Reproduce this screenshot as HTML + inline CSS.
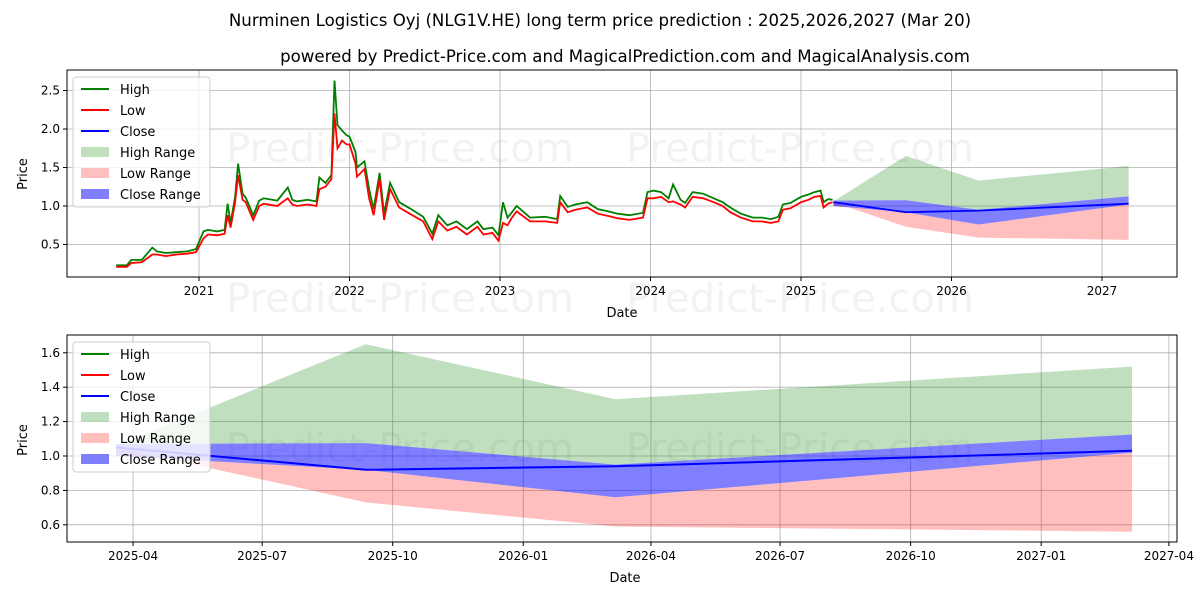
<!DOCTYPE html>
<html><head><meta charset="utf-8">
<style>
body{margin:0;background:#fff;}
svg text{font-family:"DejaVu Sans","Liberation Sans",sans-serif;fill:#000;}
</style></head>
<body>
<svg id="chart" width="1200" height="600" viewBox="0 0 1200 600" xmlns="http://www.w3.org/2000/svg">
<rect width="1200" height="600" fill="#fff"/>
<text x="600" y="26" font-size="16.6" text-anchor="middle">Nurminen Logistics Oyj (NLG1V.HE) long term price prediction : 2025,2026,2027 (Mar 20)</text>
<text x="625" y="62" font-size="16.6" text-anchor="middle">powered by Predict-Price.com and MagicalPrediction.com and MagicalAnalysis.com</text>
<g id="topPanel"></g>
<g id="botPanel"></g>
</svg>
<script>
const histT=[2020.45,2020.52,2020.55,2020.62,2020.69,2020.72,2020.78,2020.85,2020.92,2020.98,2021.03,2021.06,2021.12,2021.17,2021.19,2021.21,2021.24,2021.26,2021.29,2021.31,2021.36,2021.4,2021.43,2021.52,2021.59,2021.62,2021.65,2021.72,2021.78,2021.8,2021.84,2021.88,2021.9,2021.92,2021.95,2021.98,2022.0,2022.04,2022.05,2022.1,2022.13,2022.16,2022.2,2022.23,2022.27,2022.33,2022.4,2022.49,2022.55,2022.59,2022.65,2022.71,2022.78,2022.85,2022.89,2022.95,2022.99,2023.02,2023.05,2023.08,2023.11,2023.2,2023.3,2023.38,2023.4,2023.45,2023.5,2023.58,2023.65,2023.72,2023.78,2023.86,2023.95,2023.98,2024.02,2024.07,2024.12,2024.15,2024.2,2024.23,2024.28,2024.35,2024.42,2024.48,2024.53,2024.6,2024.68,2024.74,2024.8,2024.85,2024.88,2024.93,2025.0,2025.05,2025.09,2025.13,2025.15,2025.18,2025.21];
const histLow=[0.21,0.21,0.26,0.27,0.37,0.37,0.35,0.37,0.38,0.40,0.58,0.63,0.62,0.64,0.88,0.72,1.05,1.40,1.08,1.05,0.82,1.00,1.03,1.00,1.10,1.02,1.00,1.02,1.00,1.22,1.25,1.35,2.20,1.75,1.85,1.80,1.80,1.55,1.38,1.48,1.10,0.88,1.35,0.82,1.22,0.98,0.90,0.80,0.57,0.80,0.68,0.73,0.63,0.73,0.63,0.65,0.55,0.78,0.75,0.85,0.93,0.80,0.80,0.78,1.05,0.92,0.95,0.98,0.90,0.87,0.84,0.82,0.85,1.10,1.10,1.12,1.05,1.06,1.02,0.98,1.12,1.10,1.05,1.00,0.92,0.85,0.80,0.80,0.78,0.80,0.95,0.97,1.05,1.08,1.12,1.13,0.98,1.03,1.05];
const histHigh=[0.23,0.23,0.30,0.30,0.46,0.41,0.39,0.40,0.41,0.44,0.67,0.69,0.67,0.69,1.03,0.78,1.12,1.55,1.16,1.11,0.88,1.07,1.10,1.07,1.24,1.08,1.06,1.08,1.06,1.37,1.30,1.40,2.63,2.05,1.98,1.92,1.90,1.70,1.50,1.58,1.22,0.96,1.43,0.90,1.30,1.05,0.97,0.86,0.64,0.88,0.75,0.80,0.70,0.80,0.70,0.72,0.62,1.05,0.85,0.92,1.00,0.85,0.86,0.83,1.13,0.99,1.02,1.05,0.96,0.93,0.90,0.88,0.91,1.18,1.20,1.18,1.10,1.28,1.08,1.04,1.18,1.16,1.10,1.05,0.98,0.90,0.85,0.85,0.83,0.86,1.02,1.04,1.12,1.15,1.18,1.20,1.05,1.09,1.08];
const predDays=[0,176,352,716];
const predClose=[1.05,0.92,0.94,1.03];
const highRangeTop=[1.06,1.65,1.33,1.52];
const highRangeBot=[1.07,1.075,0.95,1.125];
const lowRangeTop=[1.0,0.92,0.76,1.02];
const lowRangeBot=[1.05,0.73,0.59,0.56];
const closeRangeTop=[1.07,1.075,0.95,1.125];
const closeRangeBot=[1.0,0.92,0.76,1.02];
const topYTicks=[0.5,1.0,1.5,2.0,2.5];
const topXTicks=[2021,2022,2023,2024,2025,2026,2027];
const botYTicks=[0.6,0.8,1.0,1.2,1.4,1.6];
const botXTickLabels=["2025-04","2025-07","2025-10","2026-01","2026-04","2026-07","2026-10","2027-01","2027-04"];
const botXTickDays=[12,103,195,287,377,468,560,652,742];

const NS="http://www.w3.org/2000/svg";
function mk(parent,tag,attrs,txt){const e=document.createElementNS(NS,tag);for(const k in attrs)e.setAttribute(k,attrs[k]);if(txt!==undefined)e.textContent=txt;parent.appendChild(e);return e;}
const gTop=document.getElementById('topPanel'),gBot=document.getElementById('botPanel');
const T={x0:67,x1:1177,y0:70,y1:277};
const B={x0:67,x1:1177,y0:335,y1:542};
const xT=t=>199+(t-2021)*150.5;
const yT=v=>244.5-(v-0.5)*77;
const xB=d=>116+d*1.419;
const yB=v=>456-(v-1)*172;
const dToYear=d=>2025.215+d/365;

function pts(xs,ys,fx,fy){return xs.map((x,i)=>fx(x).toFixed(1)+','+fy(ys[i]).toFixed(1)).join(' ');}
function band(xs,a,b,fx,fy){return pts(xs,a,fx,fy)+' '+pts(xs.slice().reverse(),b.slice().reverse(),fx,fy);}

function wm(g,y){
  const t=mk(g,'text',{x:400,y:y,'font-size':40,'text-anchor':'middle',fill:'#000','fill-opacity':0.05},'Predict-Price.com');
  
  
  const t2=mk(g,'text',{x:800,y:y,'font-size':40,'text-anchor':'middle',fill:'#000','fill-opacity':0.05},'Predict-Price.com');
  
  
}

function legend(g,x,y){
  const box=mk(g,'rect',{x:x,y:y,width:137,height:130,rx:3,fill:'#fff','fill-opacity':0.8,stroke:'#ccc'});
  
  
  const items=[['High','line','#008000'],['Low','line','#ff0000'],['Close','line','#0000ff'],['High Range','patch','rgba(0,128,0,0.25)'],['Low Range','patch','rgba(255,0,0,0.25)'],['Close Range','patch','rgba(0,0,255,0.5)']];
  items.forEach((it,i)=>{
    const cy=y+12+i*21;
    if(it[1]==='line'){const l=mk(g,'line',{x1:x+8,x2:x+36,y1:cy,y2:cy,stroke:it[2],'stroke-width':2});}
    else{const r=mk(g,'rect',{x:x+8,y:cy-5,width:28,height:10,fill:it[2]});}
    const t=mk(g,'text',{x:x+47,y:cy+5,'font-size':13},it[0]);
    
    
  });
}

// TOP PANEL
topXTicks.forEach(v=>{const x=xT(v);
  const l=mk(gTop,'line',{x1:x,x2:x,y1:T.y0,y2:T.y1,stroke:'#b0b0b0','stroke-width':0.8});
  mk(gTop,'line',{x1:x,x2:x,y1:T.y1,y2:T.y1+4,stroke:'#000'});
  const t=mk(gTop,'text',{x:x,y:T.y1+18,'font-size':12,'text-anchor':'middle'},String(v));});
topYTicks.forEach(v=>{const y=yT(v);
  const l=mk(gTop,'line',{x1:T.x0,x2:T.x1,y1:y,y2:y,stroke:'#b0b0b0','stroke-width':0.8});
  mk(gTop,'line',{x1:T.x0-4,x2:T.x0,y1:y,y2:y,stroke:'#000'});
  const t=mk(gTop,'text',{x:T.x0-7,y:y+4,'font-size':12,'text-anchor':'end'},v.toFixed(1));});
wm(gTop,162);wm(gTop,312);
const predYears=predDays.map(dToYear);
let p;
p=mk(gTop,'polygon',{points:band(predYears,highRangeTop,highRangeBot,xT,yT),fill:'#008000','fill-opacity':0.25});
p=mk(gTop,'polygon',{points:band(predYears,lowRangeTop,lowRangeBot,xT,yT),fill:'#ff0000','fill-opacity':0.25});
p=mk(gTop,'polygon',{points:band(predYears,closeRangeTop,closeRangeBot,xT,yT),fill:'#0000ff','fill-opacity':0.5});
p=mk(gTop,'polyline',{points:pts(histT,histHigh,xT,yT),fill:'none',stroke:'#008000','stroke-width':1.8});
p=mk(gTop,'polyline',{points:pts(histT,histLow,xT,yT),fill:'none',stroke:'#ff0000','stroke-width':1.8});
p=mk(gTop,'polyline',{points:pts(predYears,predClose,xT,yT),fill:'none',stroke:'#0000ff','stroke-width':1.8});
p=mk(gTop,'rect',{x:T.x0,y:T.y0,width:T.x1-T.x0,height:T.y1-T.y0,fill:'none',stroke:'#000','stroke-width':1});
p=mk(gTop,'text',{x:622,y:317,'font-size':13,'text-anchor':'middle'},'Date');
p=mk(gTop,'text',{x:27,y:174,'font-size':13,'text-anchor':'middle',transform:'rotate(-90 27 174)'},'Price');
legend(gTop,73,77);

// BOTTOM PANEL
botXTickDays.forEach((d,i)=>{const x=xB(d);
  const l=mk(gBot,'line',{x1:x,x2:x,y1:B.y0,y2:B.y1,stroke:'#b0b0b0','stroke-width':0.8});
  mk(gBot,'line',{x1:x,x2:x,y1:B.y1,y2:B.y1+4,stroke:'#000'});
  const t=mk(gBot,'text',{x:x,y:B.y1+18,'font-size':12,'text-anchor':'middle'},botXTickLabels[i]);});
botYTicks.forEach(v=>{const y=yB(v);
  const l=mk(gBot,'line',{x1:B.x0,x2:B.x1,y1:y,y2:y,stroke:'#b0b0b0','stroke-width':0.8});
  mk(gBot,'line',{x1:B.x0-4,x2:B.x0,y1:y,y2:y,stroke:'#000'});
  const t=mk(gBot,'text',{x:B.x0-7,y:y+4,'font-size':12,'text-anchor':'end'},v.toFixed(1));});
wm(gBot,462);
p=mk(gBot,'polygon',{points:band(predDays,highRangeTop,highRangeBot,xB,yB),fill:'#008000','fill-opacity':0.25});
p=mk(gBot,'polygon',{points:band(predDays,lowRangeTop,lowRangeBot,xB,yB),fill:'#ff0000','fill-opacity':0.25});
p=mk(gBot,'polygon',{points:band(predDays,closeRangeTop,closeRangeBot,xB,yB),fill:'#0000ff','fill-opacity':0.5});
p=mk(gBot,'polyline',{points:pts(predDays,predClose,xB,yB),fill:'none',stroke:'#0000ff','stroke-width':2});
p=mk(gBot,'rect',{x:B.x0,y:B.y0,width:B.x1-B.x0,height:B.y1-B.y0,fill:'none',stroke:'#000','stroke-width':1});
p=mk(gBot,'text',{x:625,y:582,'font-size':13,'text-anchor':'middle'},'Date');
p=mk(gBot,'text',{x:27,y:440,'font-size':13,'text-anchor':'middle',transform:'rotate(-90 27 440)'},'Price');
legend(gBot,73,342);
</script>
</body></html>
